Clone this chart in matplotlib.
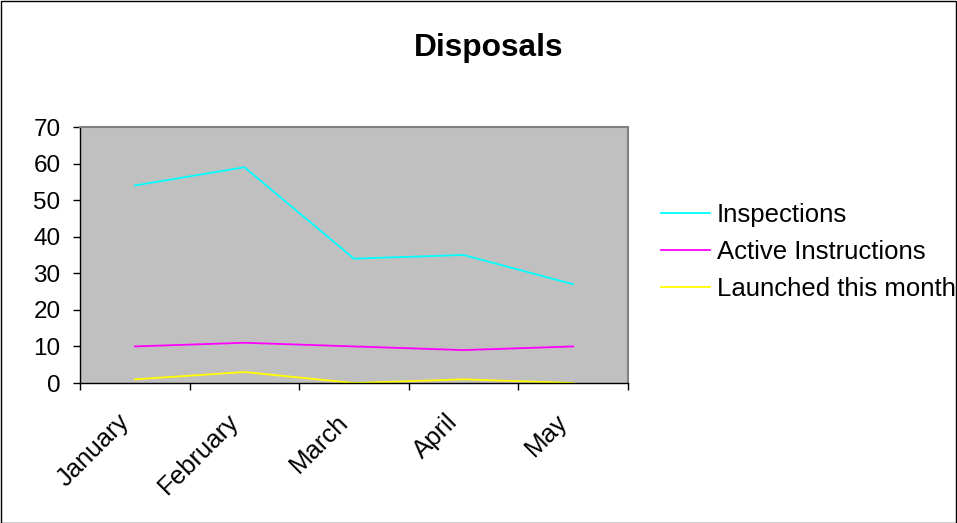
import matplotlib
matplotlib.use('Agg')
import matplotlib.pyplot as plt
from matplotlib.patches import Rectangle
from matplotlib.transforms import ScaledTranslation

plt.rcParams['font.family'] = ['Liberation Sans', 'DejaVu Sans']

months = ['January', 'February', 'March', 'April', 'May']
inspections = [54, 59, 34, 35, 27]
active_instructions = [10, 11, 10, 9, 10]
launched = [1, 3, 0, 1, 0]

fig = plt.figure(figsize=(9.57, 5.23), dpi=100)
ax = fig.add_axes([80 / 957, 1 - 383 / 523, 548 / 957, 256 / 523])
ax.set_facecolor('#c0c0c0')

x = range(len(months))
ax.plot(x, inspections, color='#00ffff', linewidth=1.3, label='Inspections')
ax.plot(x, active_instructions, color='#ff00ff', linewidth=1.3, label='Active Instructions')
ax.plot(x, launched, color='#ffff00', linewidth=1.3, label='Launched this month')

ax.set_xlim(-0.5, len(months) - 0.5)
ax.set_ylim(0, 70)
ax.set_yticks(range(0, 71, 10))
ax.tick_params(axis='y', labelsize=17.5, length=5, width=1, direction='out', pad=9)

ax.set_xticks(list(x))
ax.set_xticklabels(months, rotation=45, ha='right', rotation_mode='anchor', fontsize=18.5)
ax.set_xticks([i - 0.5 for i in range(len(months) + 1)], minor=True)
ax.tick_params(axis='x', which='major', length=0, pad=12)
ax.tick_params(axis='x', which='minor', length=5, width=1, direction='out')
# nudge month labels left/down like the original
shift = ScaledTranslation(-18 / 100, -10 / 100, fig.dpi_scale_trans)
for lab in ax.get_xticklabels():
    lab.set_transform(lab.get_transform() + shift)

for side in ['top', 'right']:
    ax.spines[side].set_color('#808080')
    ax.spines[side].set_linewidth(1.5)
for side in ['left', 'bottom']:
    ax.spines[side].set_color('black')
    ax.spines[side].set_linewidth(1)

fig.text(489 / 957, 1 - 48 / 523, 'Disposals', ha='center', va='center',
         fontsize=22.8, fontweight='bold')

fig.legend(loc='center left', bbox_to_anchor=(651 / 957, 1 - 252 / 523),
           frameon=False, fontsize=18.5, handlelength=1.9, handletextpad=0.27,
           labelspacing=0.5, borderaxespad=0)

fig.patches.append(Rectangle((0.5 / 957, 0.5 / 523), 955.5 / 957, 521.5 / 523,
                             transform=fig.transFigure, fill=False,
                             edgecolor='black', linewidth=1))

fig.savefig('out.png', dpi=100)
